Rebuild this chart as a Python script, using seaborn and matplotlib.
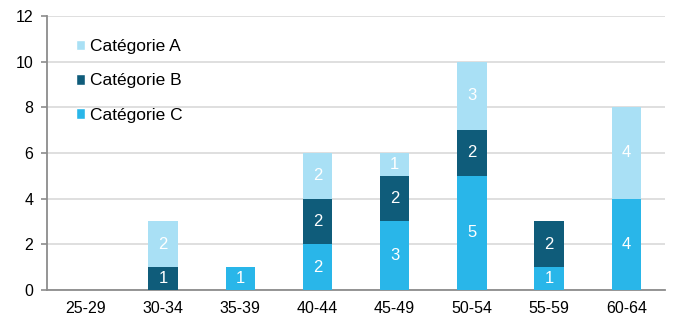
import numpy as np
import pandas as pd
import matplotlib
matplotlib.use("Agg")
import matplotlib.pyplot as plt
from matplotlib.patches import Patch
import seaborn as sns

tranches = ["25-29", "30-34", "35-39", "40-44", "45-49", "50-54", "55-59", "60-64"]
cat_a = [0, 2, 0, 2, 1, 3, 0, 4]
cat_b = [0, 1, 0, 2, 2, 2, 2, 0]
cat_c = [0, 0, 1, 2, 3, 5, 1, 4]

couleurs = {"Catégorie A": "#A9E0F5", "Catégorie B": "#0F5C7A", "Catégorie C": "#29B6E9"}

sns.set_theme(style="white")
plt.rcParams["font.family"] = ["Liberation Sans", "DejaVu Sans"]

df = pd.DataFrame({"tranche": tranches, "A": cat_a, "B": cat_b, "C": cat_c})
df["C_cum"] = df["C"]
df["B_cum"] = df["C"] + df["B"]
df["A_cum"] = df["B_cum"] + df["A"]

fig, ax = plt.subplots(figsize=(6.73, 3.2), dpi=100)
fig.subplots_adjust(left=0.070, right=0.988, bottom=0.094, top=0.95)

# superposition: total d'abord, puis les parts du bas par-dessus
for col, nom in [("A_cum", "Catégorie A"), ("B_cum", "Catégorie B"), ("C_cum", "Catégorie C")]:
    sns.barplot(data=df, x="tranche", y=col, color=couleurs[nom], width=0.38,
                saturation=1, ax=ax, linewidth=0, zorder=3)

# étiquettes centrées dans chaque segment
for i, row in df.iterrows():
    bas = 0
    for cle in ["C", "B", "A"]:
        v = row[cle]
        if v > 0:
            ax.text(i, bas + v / 2, str(v), ha="center", va="center",
                    color="white", fontsize=12, zorder=4)
        bas += v

ax.set_ylim(0, 12)
ax.set_yticks(np.arange(0, 13, 2))
ax.set_xlim(-0.5, len(tranches) - 0.5)
ax.set_xlabel("")
ax.set_ylabel("")
ax.yaxis.grid(True, color="#D9D9D9", linewidth=1.2, zorder=0)
ax.set_axisbelow(True)

for s in ["top", "right"]:
    ax.spines[s].set_visible(False)
for s in ["left", "bottom"]:
    ax.spines[s].set_color("#8C8C8C")
    ax.spines[s].set_linewidth(1.3)

# graduations x aux limites entre classes
ax.set_xticks(np.arange(len(tranches)))
ax.set_xticklabels(tranches, fontsize=11.5)
ax.set_xticks(np.arange(-0.5, len(tranches), 1), minor=True)
ax.tick_params(axis="x", which="major", length=0, pad=8, labelcolor="black")
ax.tick_params(axis="x", which="minor", length=4, color="#8C8C8C", width=1.2, direction="out")
ax.tick_params(axis="y", length=4, color="#8C8C8C", width=1.2, labelsize=11.5, pad=6,
               left=True, labelcolor="black")

handles = [Patch(facecolor=couleurs[n], label=n) for n in ["Catégorie A", "Catégorie B", "Catégorie C"]]
leg = ax.legend(handles=handles, loc="upper left", bbox_to_anchor=(0.035, 0.94), frameon=False,
                fontsize=12.5, handlelength=0.55, handleheight=0.55, handletextpad=0.25,
                labelspacing=1.1, borderaxespad=0)
for t in leg.get_texts():
    t.set_color("black")

fig.savefig("out.png", dpi=100)
